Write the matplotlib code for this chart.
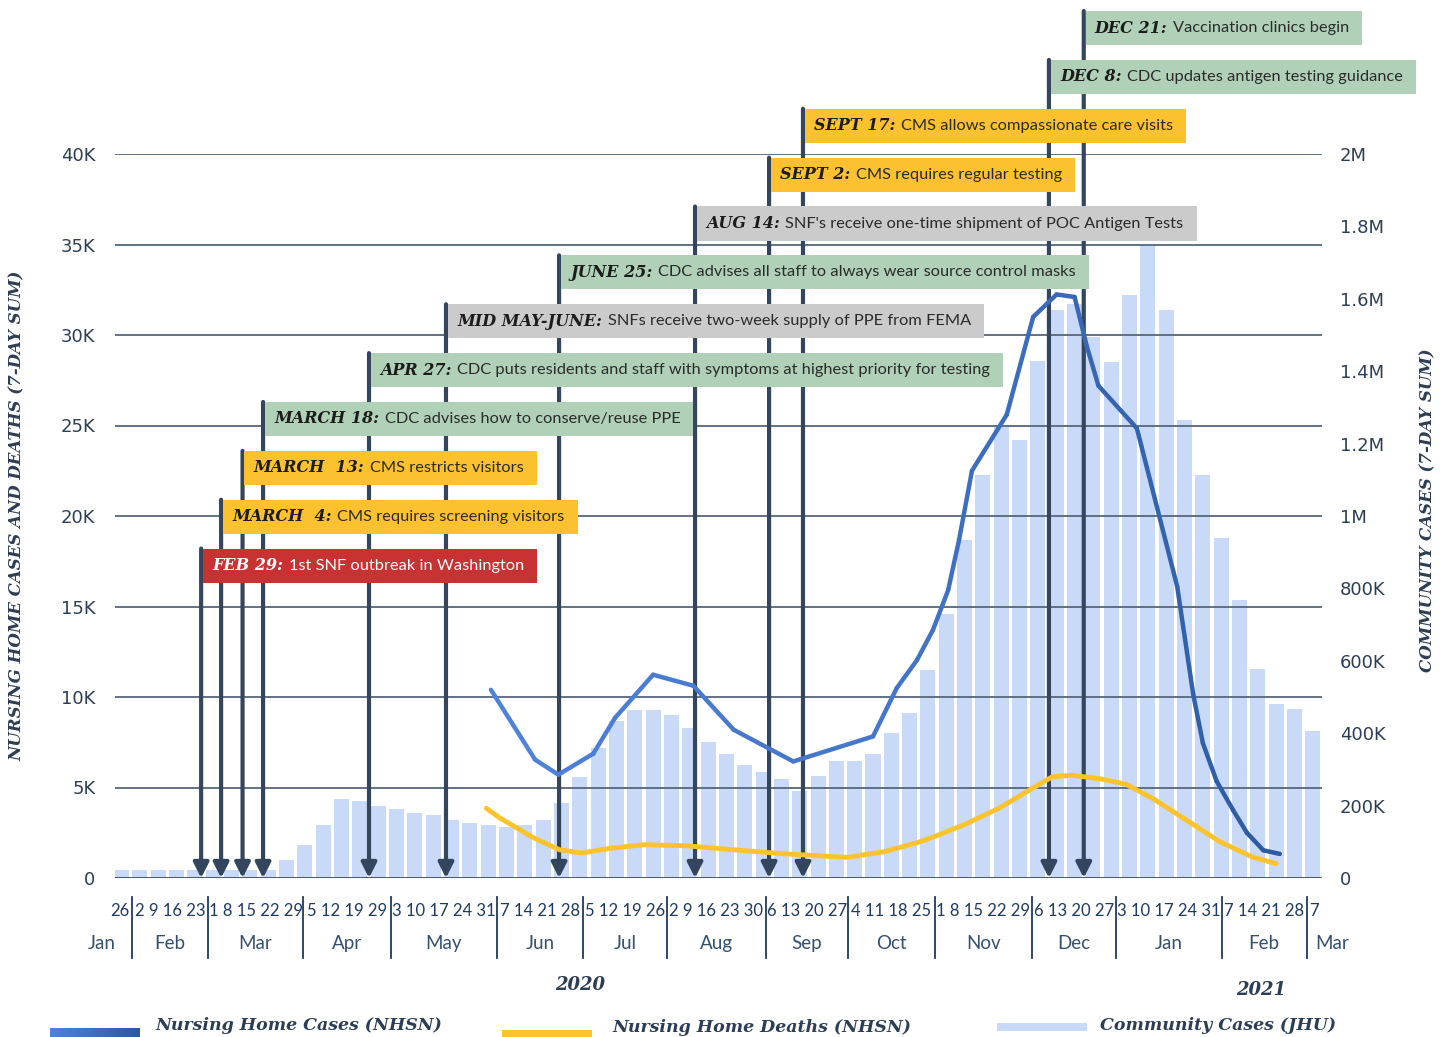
import numpy as np
import matplotlib.pyplot as plt
from matplotlib.patches import Rectangle
from matplotlib.collections import LineCollection
from matplotlib.colors import LinearSegmentedColormap

plt.rcParams['font.family'] = ['Lato', 'DejaVu Sans']

# Community cases (JHU, 7-day sum), one bar per week
community_cases = [
    21000, 21000, 21000, 21000, 21000, 21000, 21000, 21000, 21000,
    51000, 92000, 147000, 219000, 213000, 200000, 191000, 180000, 173000, 161000, 153000, 147000,
    140000, 147000, 161000, 208000, 280000, 360000, 435000, 465000, 465000, 451000,
    415000, 376000, 343000, 313000, 294000, 274000, 241000, 283000, 324000, 324000,
    343000, 401000, 457000, 575000, 730000, 935000, 1114000, 1248000, 1211000, 1429000,
    1570000, 1586000, 1495000, 1426000, 1611000, 1750000, 1570000, 1265000, 1114000, 940000,
    768000, 578000, 481000, 467000, 407000,
]

# Nursing home cases (NHSN, 7-day sum), x in weeks on the bar scale
nh_cases_week = [20.15, 22.56, 23.83, 25.74, 26.92, 29.0, 31.2, 33.4, 36.65, 41.0, 42.3,
                 43.4, 44.27, 45.1, 45.7, 46.4, 48.3, 49.74, 51.02, 52.0, 52.66, 53.3,
                 55.4, 57.6, 58.47, 59.0, 59.75, 60.65, 61.4, 62.3, 63.2]
nh_cases = [10400, 6540, 5710, 6870, 8840, 11230, 10620, 8190, 6440, 7820, 10500,
            12040, 13700, 15900, 18700, 22500, 25600, 31000, 32240, 32100, 29400, 27200,
            24840, 16100, 10160, 7450, 5350, 3750, 2500, 1530, 1330]

# Nursing home deaths (NHSN, 7-day sum)
nh_deaths_week = [19.9, 20.65, 22.5, 23.9, 25.1, 26.65, 28.5, 30.8, 33.4, 36.1, 39.6, 41.6,
                  43.4, 44.3, 46.1, 47.9, 49.74, 50.8, 51.9, 53.4, 54.8, 56.3, 58.1, 59.9,
                  61.7, 63.0]
nh_deaths = [3850, 3310, 2210, 1560, 1380, 1640, 1840, 1780, 1560, 1340, 1140, 1450,
             1950, 2270, 3000, 3870, 4980, 5600, 5670, 5480, 5180, 4370, 3200, 2020,
             1160, 790]

# Policy timeline
event_week = [4.34, 5.43, 6.6, 7.72, 13.5, 17.7, 23.87, 31.29, 35.33, 37.18, 50.6, 52.5]
event_label = ["FEB 29:", "MARCH  4:", "MARCH  13:", "MARCH 18:", "APR 27:", "MID MAY-JUNE:",
               "JUNE 25:", "AUG 14:", "SEPT 2:", "SEPT 17:", "DEC 8:", "DEC 21:"]
event_text = [
    "1st SNF outbreak in Washington",
    "CMS requires screening visitors",
    "CMS restricts visitors",
    "CDC advises how to conserve/reuse PPE",
    "CDC puts residents and staff with symptoms at highest priority for testing",
    "SNFs receive two-week supply of PPE from FEMA",
    "CDC advises all staff to always wear source control masks",
    "SNF's receive one-time shipment of POC Antigen Tests",
    "CMS requires regular testing",
    "CMS allows compassionate care visits",
    "CDC updates antigen testing guidance",
    "Vaccination clinics begin",
]
event_kind = ["red", "yellow", "yellow", "green", "green", "gray", "green", "gray",
              "yellow", "yellow", "green", "green"]

month_names = ["Jan", "Feb", "Mar", "Apr", "May", "Jun", "Jul", "Aug", "Sep", "Oct",
               "Nov", "Dec", "Jan", "Feb", "Mar"]
month_days = ["26", "2 9 16 23", "1 8 15 22 29", "5 12 19 29", "3 10 17 24 31", "7 14 21 28",
              "5 12 19 26", "2 9 16 23 30", "6 13 20 27", "4 11 18 25", "1 8 15 22 29",
              "6 13 20 27", "3 10 17 24 31", "7 14 21 28", "7"]

navy = "#2c3e55"
box_colors = {"red": "#c93232", "yellow": "#fbc12e", "green": "#b0d1b8", "gray": "#cbcbcb"}
serif_bi = dict(family="DejaVu Serif", weight="bold", style="italic")
cases_cmap = LinearSegmentedColormap.from_list("cases", ["#4f82dc", "#2c5aa0"])

fig = plt.figure(figsize=(14.49, 10.37), dpi=100)
ax = fig.add_axes([115 / 1449, 159 / 1037, 1207 / 1449, 724 / 1037])
ax_bar = ax.twinx()
ax.set_zorder(ax_bar.get_zorder() + 1)
ax.patch.set_visible(False)

weeks = np.arange(len(community_cases))
ax_bar.bar(weeks, community_cases, width=0.82, color="#c9daf8", zorder=1)
ax_bar.set_ylim(0, 2_000_000)
ax.set_ylim(0, 40000)
ax.set_xlim(-0.36, 65.5)

left_ticks = np.arange(0, 40001, 5000)
ax.set_yticks(left_ticks)
ax.set_yticklabels(["0"] + [f"{v // 1000}K" for v in left_ticks[1:]])
right_ticks = np.arange(0, 2_000_001, 200_000)
ax_bar.set_yticks(right_ticks)
ax_bar.set_yticklabels(["0"] + [f"{v // 1000}K" if v < 1e6 else f"{v / 1e6:g}M"
                                for v in right_ticks[1:]])
ax.tick_params(axis="y", length=0, pad=14, labelsize=13, labelcolor=navy)
ax_bar.tick_params(axis="y", length=0, pad=13, labelsize=13, labelcolor=navy)
for t in ax.get_yticklabels() + ax_bar.get_yticklabels():
    t.set_family("DejaVu Sans")
ax.set_xticks([])
for a in (ax, ax_bar):
    for s in a.spines.values():
        s.set_visible(False)

for v in left_ticks:
    ax.axhline(v, color="#3d4b5e" if v == 0 else "#56667b", lw=1.3, zorder=1)

# nursing home cases, gradient line
pts = np.column_stack([nh_cases_week, nh_cases])
segs = np.stack([pts[:-1], pts[1:]], axis=1)
lc = LineCollection(segs, cmap=cases_cmap, linewidths=3.2, capstyle="round",
                    joinstyle="round", zorder=6)
lc.set_array(np.linspace(0, 1, len(segs)))
ax.add_collection(lc)

ax.plot(nh_deaths_week, nh_deaths, color="#fcc32c", lw=3.5, solid_capstyle="round",
        solid_joinstyle="round", zorder=6)

# event boxes with arrows
box_h = 1880
texts = []
for k, (x, lab, txt, kind) in enumerate(zip(event_week, event_label, event_text, event_kind)):
    top = 18200 + 2700 * k
    ax.annotate("", xy=(x, 0), xytext=(x, top), annotation_clip=False,
                arrowprops=dict(arrowstyle="-|>,head_length=0.75,head_width=0.38",
                                lw=3, color="#34465e", shrinkA=0, shrinkB=0,
                                mutation_scale=12), zorder=3)
    fg = "white" if kind == "red" else "#1c1c1c"
    t1 = ax.annotate(lab, xy=(x, top - box_h / 2), xytext=(8, 0), textcoords="offset points",
                     va="center", ha="left", fontsize=11.5, color=fg, zorder=5,
                     annotation_clip=False, **serif_bi)
    t2 = ax.annotate(txt, xy=(1, 0.5), xycoords=t1, xytext=(4, 0), textcoords="offset points",
                     va="center", ha="left", fontsize=11.8,
                     color="white" if kind == "red" else "#2b2b2b", zorder=5,
                     annotation_clip=False)
    texts.append((x, top, kind, t2))

fig.canvas.draw()
renderer = fig.canvas.get_renderer()
inv = ax.transData.inverted()
for x, top, kind, t2 in texts:
    x1 = t2.get_window_extent(renderer).x1 + 13
    right = inv.transform((x1, 0))[0]
    ax.add_patch(Rectangle((x + 0.1, top - box_h), right - x - 0.1, box_h,
                           facecolor=box_colors[kind], edgecolor="none", zorder=4,
                           clip_on=False))

# x axis: day numbers and month names
trans = ax.get_xaxis_transform()
month_edges = [0.57, 4.72, 9.90, 14.70, 20.48, 25.17, 29.75, 35.15, 39.62, 44.37,
               49.66, 54.24, 60.02, 64.66]
starts = [-2.7] + month_edges
ends = month_edges + [67.4]
for i, (m, d) in enumerate(zip(month_names, month_days)):
    mid = (starts[i] + ends[i]) / 2
    if i == 0:
        ax.text(ends[i] - 0.12, -0.0456, d, ha="right", va="center", fontsize=12,
                color="#1f3a60", transform=trans)
    elif i == len(month_names) - 1:
        ax.text(starts[i] + 0.12, -0.0456, d, ha="left", va="center", fontsize=12,
                color="#1f3a60", transform=trans)
    else:
        ax.text(mid, -0.0456, d, ha="center", va="center", fontsize=12,
                color="#1f3a60", transform=trans)
    ax.text(mid, -0.0898, m, ha="center", va="center", fontsize=13.5,
            color="#34506f", transform=trans)
for e in month_edges:
    ax.plot([e, e], [-0.026, -0.110], transform=trans, clip_on=False, color="#1f3a60", lw=1.3)

ax.text(25.0, -0.148, "2020", ha="center", va="center", fontsize=13, color=navy,
        transform=trans, **serif_bi)
ax.text(62.2, -0.155, "2021", ha="center", va="center", fontsize=13, color=navy,
        transform=trans, **serif_bi)

# axis titles
fig.text(17 / 1449, 0.503, "NURSING HOME CASES AND DEATHS (7-DAY SUM)", rotation=90,
         ha="center", va="center", fontsize=12, color=navy, **serif_bi)
fig.text(1428 / 1449, 0.508, "COMMUNITY CASES (7-DAY SUM)", rotation=90,
         ha="center", va="center", fontsize=12, color=navy, **serif_bi)

# legend
lax = fig.add_axes([50 / 1449, 0, 90 / 1449, 9 / 1037])
lax.imshow(np.linspace(0, 1, 100)[None, :], cmap=cases_cmap, aspect="auto")
lax.axis("off")
fig.add_artist(Rectangle((502 / 1449, 0), 90 / 1449, 7 / 1037, transform=fig.transFigure,
                         facecolor="#fcc32c", edgecolor="none"))
fig.add_artist(Rectangle((997 / 1449, 6 / 1037), 90 / 1449, 8 / 1037,
                         transform=fig.transFigure, facecolor="#c9daf8", edgecolor="none"))
fig.text(155 / 1449, 3 / 1037, "Nursing Home Cases (NHSN)", va="bottom", fontsize=12.5,
         color=navy, **serif_bi)
fig.text(612 / 1449, 10 / 1037, "Nursing Home Deaths (NHSN)", va="center", fontsize=12.5,
         color=navy, **serif_bi)
fig.text(1100 / 1449, 12 / 1037, "Community Cases (JHU)", va="center", fontsize=12.5,
         color=navy, **serif_bi)

fig.savefig("out.png", dpi=100)
